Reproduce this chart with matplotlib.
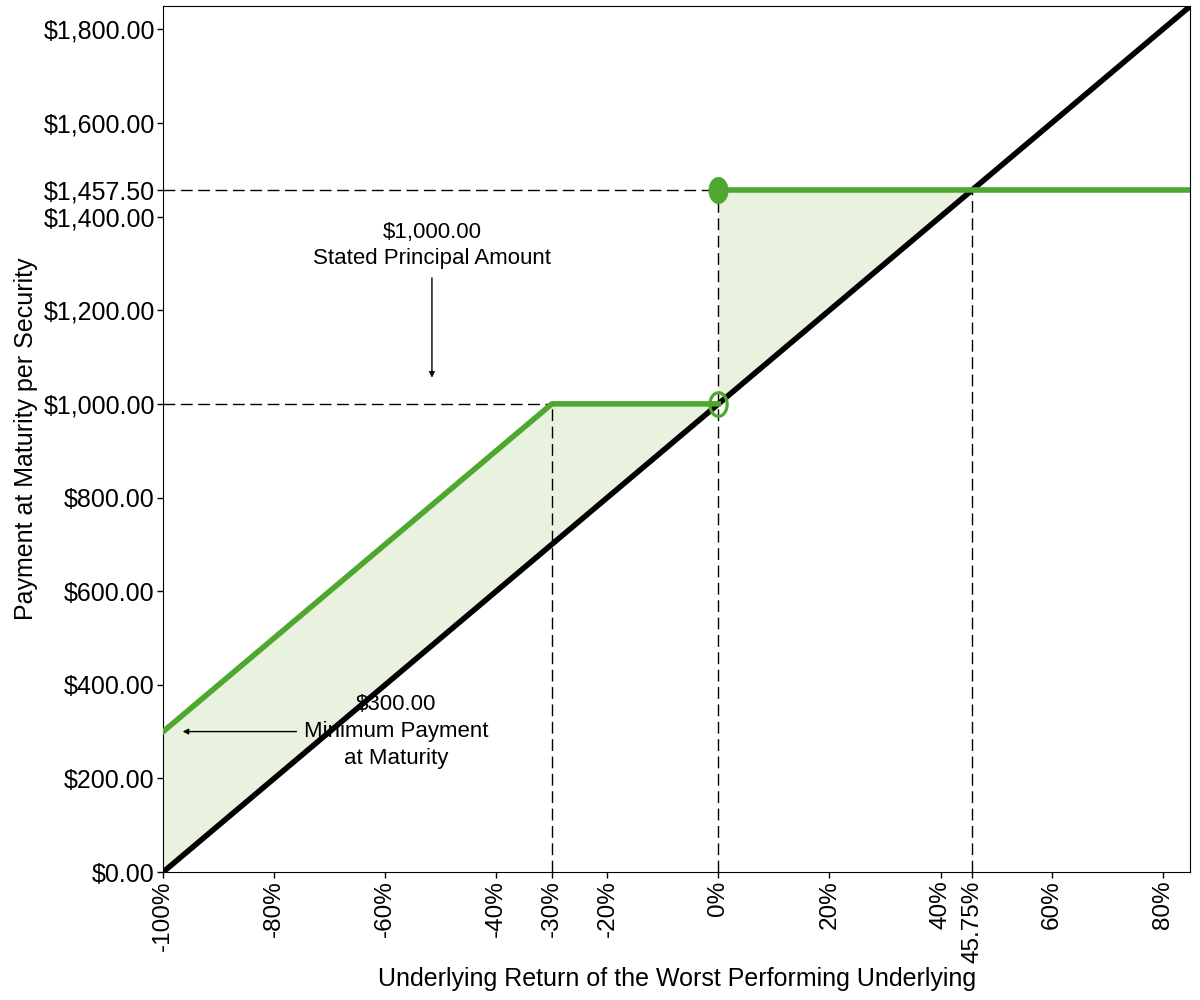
import matplotlib
matplotlib.use('Agg')
import matplotlib.pyplot as plt
from matplotlib.path import Path
import numpy as np

plt.rcParams['font.family'] = ['Liberation Sans', 'DejaVu Sans']

# payoff data (underlying return, payment per security)
stock_x = [-1.0, 0.85]
stock_y = [0.0, 1850.0]
low_x = [-1.0, -0.30, 0.0]
low_y = [300.0, 1000.0, 1000.0]
high_x = [0.0, 0.85]
high_y = [1457.50, 1457.50]

x_ticks = [-1.0, -0.8, -0.6, -0.4, -0.3, -0.2, 0.0, 0.2, 0.4, 0.4575, 0.6, 0.8]
x_labels = ['-100%', '-80%', '-60%', '-40%', '-30%', '-20%', '0%', '20%', '40%', '45.75%', '60%', '80%']
y_ticks = [0, 200, 400, 600, 800, 1000, 1200, 1400, 1457.50, 1600, 1800]

green = '#4ea72e'
fill_green = '#e9f2df'

# tall ellipse marker for the jump points
t = np.linspace(0, 2 * np.pi, 60)
ellipse = Path(np.column_stack([0.73 * np.cos(t), np.sin(t)]), closed=True)

fig = plt.figure(figsize=(12, 10), dpi=100)
ax = fig.add_axes([0.136, 0.128, 0.856, 0.866])

# shaded area between note payoff and underlying
xs = np.array([-1.0, -0.30, 0.0])
ax.fill_between(xs, np.interp(xs, stock_x, stock_y), low_y, color=fill_green, lw=0, zorder=1)
xs2 = np.array([0.0, 0.4575])
ax.fill_between(xs2, np.interp(xs2, stock_x, stock_y), high_y[0], color=fill_green, lw=0, zorder=1)

# guide lines
dash = dict(color='black', lw=1, ls=(0, (8.5, 4)), zorder=2)
ax.plot([-1.0, -0.30], [1000, 1000], **dash)
ax.plot([-1.0, 0.0], [1457.50, 1457.50], **dash)
ax.plot([-0.30, -0.30], [0, 1000], **dash)
ax.plot([0.0, 0.0], [0, 1457.50], **dash)
ax.plot([0.4575, 0.4575], [0, 1457.50], **dash)

# annotations
ax.text(-0.516, 1339, '$1,000.00\nStated Principal Amount', ha='center', va='center',
        fontsize=16, linespacing=1.3, zorder=2)
ax.annotate('', xy=(-0.516, 1050), xytext=(-0.516, 1275),
            arrowprops=dict(arrowstyle='-|>', color='black', lw=1, mutation_scale=8), zorder=2)
ax.text(-0.58, 300, '$300.00\nMinimum Payment\nat Maturity', ha='center', va='center',
        fontsize=16, linespacing=1.35, zorder=2)
ax.annotate('', xy=(-0.97, 300), xytext=(-0.755, 300),
            arrowprops=dict(arrowstyle='-|>', color='black', lw=1, mutation_scale=8), zorder=2)

# payoff lines
ax.plot(stock_x, stock_y, color='black', lw=4, zorder=4)
ax.plot(low_x, low_y, color=green, lw=4, zorder=5)
ax.plot(high_x, high_y, color=green, lw=4, zorder=5)
ax.plot([0.0], [1000], marker=ellipse, ms=17, mfc='none', mec=green, mew=2.3, zorder=6)
ax.plot([0.0], [1457.50], marker=ellipse, ms=19, mfc=green, mec=green, mew=0.5, zorder=6)

ax.set_xlim(-1.0, 0.85)
ax.set_ylim(0, 1850)
ax.set_xticks(x_ticks)
ax.set_xticklabels(x_labels, rotation=90, fontsize=17.5)
ax.set_yticks(y_ticks)
ax.set_yticklabels([f'${v:,.2f}' for v in y_ticks], fontsize=18)
ax.tick_params(direction='out', length=4, width=1, pad=2)
ax.set_xlabel('Underlying Return of the Worst Performing Underlying', fontsize=18)
ax.set_ylabel('Payment at Maturity per Security', fontsize=18)
ax.xaxis.set_label_coords(0.5, -0.110)
ax.yaxis.set_label_coords(-0.122, 0.5)

plt.savefig('out.png', dpi=100)
